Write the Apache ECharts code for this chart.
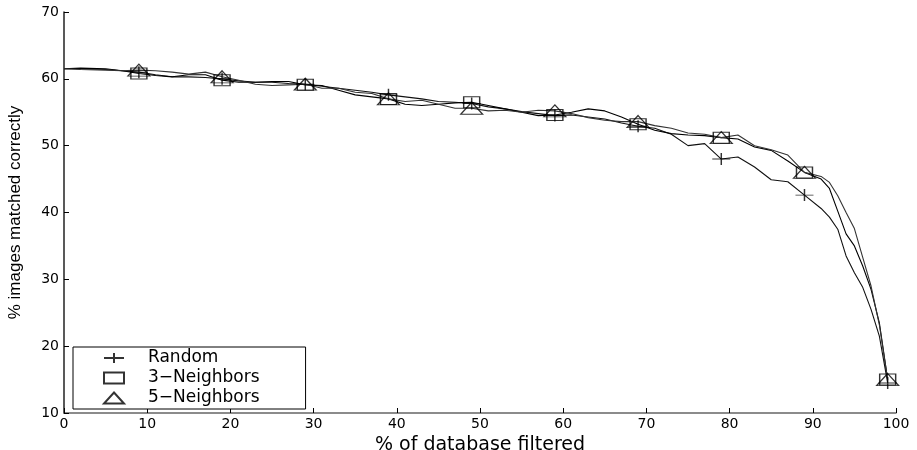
<!DOCTYPE html>
<html>
<head>
<meta charset="utf-8">
<script src="https://cdn.jsdelivr.net/npm/echarts@6/dist/echarts.min.js"></script>
<style>html,body{margin:0;padding:0;background:#fff}#c{width:917px;height:450px}</style>
</head>
<body>
<div id="c"></div>
<script>
// % of database filtered (x positions of the sampled points)
const xs = [0,2,5,7,
  9,11,13,15,17, 19,21,23,25,27, 29,31,33,35,37, 39,41,43,45,47,
  49,51,53,55,57, 59,61,63,65,67, 69,71,73,75,77, 79,81,83,85,87,
  89,91,92,93,94,95,96,97,98,99];
const randomVals = [61.5,61.5,61.4,61.2,
  61.0,60.6,60.3,60.3,60.2, 60.0,59.7,59.5,59.5,59.3, 59.2,58.9,58.6,58.3,58.0, 57.6,57.3,57.0,56.6,56.5,
  56.3,55.8,55.5,55.1,54.8, 54.5,54.6,54.3,54.0,53.4, 52.9,52.6,51.7,50.0,50.3, 48.0,48.3,46.8,44.9,44.6,
  42.6,40.6,39.3,37.5,33.5,31.0,28.8,25.5,21.5,14.5];
const neighbors3Vals = [61.5,61.6,61.5,61.2,
  60.8,60.5,60.3,60.6,60.6, 59.8,59.5,59.5,59.6,59.6, 59.1,59.0,58.3,57.6,57.3, 57.0,56.2,56.0,56.2,56.4,
  56.5,56.0,55.5,55.0,54.5, 54.6,55.0,55.5,55.2,54.3, 53.2,52.3,51.8,51.6,51.5, 51.2,51.0,49.8,49.3,47.7,
  46.0,45.0,43.6,40.2,36.8,35.0,32.0,28.5,23.5,15.0];
const neighbors5Vals = [61.5,61.4,61.3,61.2,
  61.3,61.2,61.0,60.7,61.0, 60.3,59.8,59.2,59.0,59.1, 59.2,58.6,58.6,58.0,57.8, 57.0,56.6,56.8,56.2,55.6,
  55.6,55.2,55.3,55.0,55.3, 55.2,54.8,54.2,53.8,53.6, 53.6,53.0,52.6,51.9,51.7, 51.2,51.6,50.0,49.4,48.6,
  46.0,45.4,44.5,42.5,40.0,37.6,33.3,29.0,23.2,15.0];
const markerX = [9,19,29,39,49,59,69,79,89,99];
const seriesNames = ['Random','3\u2212Neighbors','5\u2212Neighbors'];
const xTicks = [0,10,20,30,40,50,60,70,80,90,100];
const yTicks = [10,20,30,40,50,60,70];

const allVals = [randomVals, neighbors3Vals, neighbors5Vals];
const symbols = ['path://M0,5H20M10,0V10', 'rect', 'triangle'];
const symSizes = [[18,12],[16,11],[22,12]];
const lineColors = ['#111','#000','#333'];

const series = [];
allVals.forEach((vals, i) => {
  series.push({
    name: seriesNames[i] + ' line',
    type: 'line',
    data: xs.map((x, k) => [x, vals[k]]),
    showSymbol: false,
    symbol: 'none',
    lineStyle: {color: lineColors[i], width: 1.1},
    z: 2,
    silent: true
  });
});
allVals.forEach((vals, i) => {
  series.push({
    name: seriesNames[i],
    type: 'scatter',
    data: markerX.map(x => [x, vals[xs.indexOf(x)]]),
    symbol: symbols[i],
    symbolSize: symSizes[i],
    symbolKeepAspect: false,
    itemStyle: {color: 'rgba(0,0,0,0)', borderColor: '#000', borderWidth: 1.2},
    z: 5
  });
});

const chart = echarts.init(document.getElementById('c'), null, {renderer: 'canvas'});
chart.setOption({
  animation: false,
  backgroundColor: '#fff',
  grid: {left: 64, right: 21, top: 12, bottom: 37, containLabel: false, outerBoundsMode: 'none'},
  xAxis: {
    type: 'value', min: 0, max: 100, interval: 10,
    name: '% of database filtered', nameLocation: 'middle', nameGap: 17,
    nameTextStyle: {fontFamily: 'DejaVu Sans', fontSize: 19, color: '#000'},
    axisLine: {show: true, lineStyle: {color: '#666', width: 1.5}},
    axisTick: {show: true, inside: true, length: 5, lineStyle: {color: '#000'}},
    axisLabel: {fontFamily: 'DejaVu Sans', fontSize: 14, color: '#000', margin: 4,
      formatter: v => xTicks.includes(v) ? String(v) : ''},
    splitLine: {show: false}
  },
  yAxis: {
    type: 'value', min: 10, max: 70, interval: 10,
    name: '% images matched correctly', nameLocation: 'middle', nameGap: 40,
    nameTextStyle: {fontFamily: 'Liberation Sans', fontSize: 17, color: '#000'},
    axisLine: {show: true, lineStyle: {color: '#222', width: 1.5}},
    axisTick: {show: true, inside: true, length: 5, lineStyle: {color: '#000'}},
    axisLabel: {fontFamily: 'DejaVu Sans', fontSize: 14, color: '#000', margin: 5,
      formatter: v => yTicks.includes(v) ? String(v) : ''},
    splitLine: {show: false}
  },
  legend: {
    data: seriesNames,
    orient: 'vertical',
    left: 73, top: 347,
    padding: [1, 46, 1, 30],
    itemWidth: 20, itemHeight: 11, itemGap: 0,
    backgroundColor: '#fff',
    borderColor: '#000', borderWidth: 1, borderRadius: 0,
    textStyle: {fontFamily: 'DejaVu Sans', fontSize: 17, lineHeight: 20, color: '#000', padding: [0,0,0,19]},
    selectedMode: false
  },
  series: series
});
</script>
</body>
</html>
